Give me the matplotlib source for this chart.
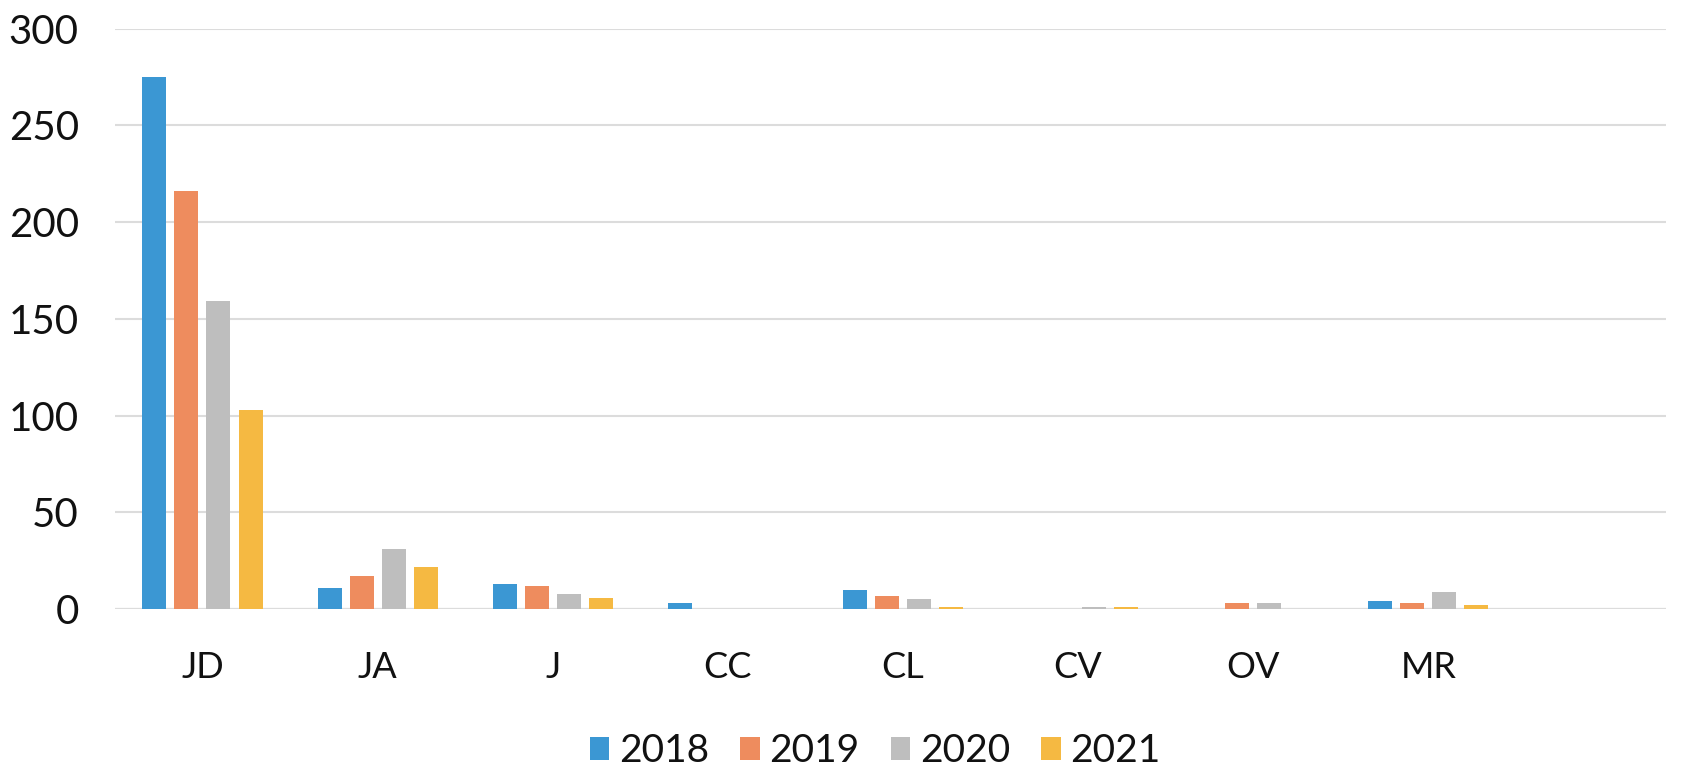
import numpy as np
import matplotlib
matplotlib.use("Agg")
import matplotlib.pyplot as plt

# categories and yearly values
categories = ["JD", "JA", "J", "CC", "CL", "CV", "OV", "MR"]
years = ["2018", "2019", "2020", "2021"]
v2018 = [275, 11, 13, 3, 10, 0, 0, 4]
v2019 = [216, 17, 12, 0, 7, 0, 3, 3]
v2020 = [159, 31, 8, 0, 5, 1, 3, 9]
v2021 = [103, 22, 6, 0, 1, 1, 0, 2]
colors = ["#3B97D3", "#EE8C5E", "#BEBEBE", "#F5B942"]

plt.rcParams['font.family'] = ['Lato', 'DejaVu Sans']

fig = plt.figure(figsize=(16.9, 7.75), dpi=100)
ax = fig.add_axes([0.068, 0.214, 0.918, 0.749])

x = np.arange(len(categories))
step = 0.183
width = 0.137
for i, (vals, yr) in enumerate(zip([v2018, v2019, v2020, v2021], years)):
    ax.bar(x + (i - 1.5) * step, vals, width, color=colors[i], label=yr, zorder=3)

ax.set_ylim(0, 300)
ax.set_yticks(range(0, 301, 50))
ax.set_xlim(-0.5, 8.36)
ax.set_xticks(x)
ax.set_xticklabels(categories)
ax.grid(axis='y', color='#DCDCDC', linewidth=1.5, zorder=0)
ax.axhline(0, color='#D0D0D0', linewidth=1.5, zorder=1)
for s in ax.spines.values():
    s.set_visible(False)
ax.tick_params(axis='y', length=0, labelsize=29, pad=26, colors='#111111')
ax.tick_params(axis='x', length=0, labelsize=26, pad=30, colors='#111111')

fig.legend(loc='center', bbox_to_anchor=(0.518, 0.031), ncol=4, frameon=False,
           fontsize=28, handlelength=0.5, handleheight=0.55, handletextpad=0.25,
           columnspacing=0.8, labelcolor='#111111')

fig.savefig("out.png", dpi=100, facecolor='white')
